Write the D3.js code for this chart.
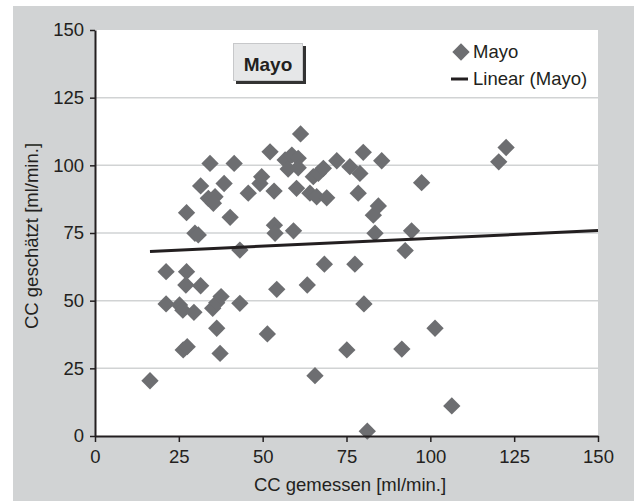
<!DOCTYPE html>
<html>
<head>
<meta charset="utf-8">
<script src="https://cdn.jsdelivr.net/npm/d3@7"></script>
<style>
  body { margin: 0; background: #fff; }
  svg text { font-family: "Liberation Sans", Arial, sans-serif; fill: #231f20; }
</style>
</head>
<body>
<div id="chart"></div>
<script>
// measured (x) vs estimated (y) clearance, ml/min
var measured = [16.4, 21.2, 21.2, 25.2, 26.2, 26.3, 27.5, 27.3, 27.3, 27.1,
  29.5, 29.8, 30.8, 31.5, 31.5, 33.8, 34.3, 35.8, 35.3, 35.1,
  36.3, 37.6, 36.3, 37.3, 38.5, 40.3, 41.5, 43.2, 43.2, 45.7,
  49.2, 49.7, 51.4, 52.2, 53.4, 53.5, 53.7, 54.2, 56.7, 57.6,
  58.7, 60.6, 60.6, 60.1, 59.2, 61.3, 63.3, 64.1, 65.1, 66.1,
  66.6, 65.6, 68.1, 69.1, 68.4, 72.1, 75.1, 76.0, 77.5, 78.5,
  79.0, 80.0, 80.2, 81.2, 83.0, 83.5, 84.5, 85.5, 91.5, 92.5,
  94.4, 97.4, 101.4, 106.4, 120.4, 122.6];
var estimated = [20.4, 60.7, 48.8, 48.4, 46.5, 31.8, 33.0, 82.5, 60.7, 55.8,
  45.7, 74.9, 74.3, 55.5, 92.4, 87.8, 100.7, 88.4, 86.0, 47.2,
  49.2, 51.5, 39.8, 30.5, 93.3, 80.8, 100.7, 68.7, 49.0, 89.7,
  93.3, 95.8, 37.7, 105.0, 90.5, 77.9, 74.9, 54.2, 102.0, 98.6,
  103.8, 102.6, 99.1, 91.5, 75.8, 111.6, 55.8, 89.7, 95.8, 88.4,
  97.0, 22.3, 98.9, 88.0, 63.5, 101.7, 31.8, 99.5, 63.5, 89.7,
  97.0, 104.8, 48.8, 1.8, 81.6, 74.9, 85.0, 101.7, 32.1, 68.5,
  75.8, 93.6, 39.8, 11.1, 101.3, 106.6];

// linear trend (Mayo), end points
var trendX = [16.4, 150];
var trendY = [68.2, 75.9];

var ticks = [0, 25, 50, 75, 100, 125, 150];

var data = measured.map(function(m, i) { return {x: m, y: estimated[i]}; });

var svgWidth = 634, svgHeight = 501;
var margin = {top: 30, right: 36, bottom: 65, left: 95};
var width = svgWidth - margin.left - margin.right;   // 503
var height = svgHeight - margin.top - margin.bottom; // 406

var svg = d3.select("#chart").append("svg")
  .attr("width", svgWidth)
  .attr("height", svgHeight);

// grey panel
svg.append("rect")
  .attr("x", 13).attr("y", 6)
  .attr("width", svgWidth - 13).attr("height", svgHeight - 6)
  .attr("fill", "#d1d3d4");

var chartGroup = svg.append("g")
  .attr("transform", `translate(${margin.left}, ${margin.top})`);

chartGroup.append("rect")
  .attr("width", width).attr("height", height)
  .attr("fill", "#fff");

var xScale = d3.scaleLinear().domain([0, 150]).range([0, width]);
var yScale = d3.scaleLinear().domain([0, 150]).range([height, 0]);

// gridlines
chartGroup.selectAll(".grid")
  .data(ticks.filter(t => t > 0 && t < 150))
  .enter().append("line")
  .attr("x1", 0).attr("x2", width)
  .attr("y1", d => yScale(d)).attr("y2", d => yScale(d))
  .attr("stroke", "#d1d3d4")
  .attr("stroke-width", 1.5);

// points
var diamond = d3.symbol().type(d3.symbolSquare).size(150);
chartGroup.selectAll(".pt")
  .data(data)
  .enter().append("path")
  .attr("d", diamond)
  .attr("transform", d => `translate(${xScale(d.x)}, ${yScale(d.y)}) rotate(45)`)
  .attr("fill", "#6d6e71");

// trend line
chartGroup.append("line")
  .attr("x1", xScale(trendX[0])).attr("y1", yScale(trendY[0]))
  .attr("x2", xScale(trendX[1])).attr("y2", yScale(trendY[1]))
  .attr("stroke", "#231f20")
  .attr("stroke-width", 3);

// axes
var xAxis = d3.axisBottom(xScale).tickValues(ticks).tickSize(6).tickSizeOuter(0).tickPadding(8);
var yAxis = d3.axisLeft(yScale).tickValues(ticks).tickSize(5).tickSizeOuter(0).tickPadding(6);

var gx = chartGroup.append("g")
  .attr("transform", `translate(0, ${height})`)
  .call(xAxis);
var gy = chartGroup.append("g").call(yAxis);

[gx, gy].forEach(function(g) {
  g.select(".domain").attr("stroke", "#231f20").attr("stroke-width", 2);
  g.selectAll(".tick line").attr("stroke", "#231f20").attr("stroke-width", 1.5);
  g.selectAll(".tick text")
    .attr("fill", "#231f20")
    .style("font-size", "18.5px")
    .style("font-family", "'Liberation Sans', Arial, sans-serif");
});

// axis titles
svg.append("text")
  .attr("x", 350).attr("y", 491)
  .attr("text-anchor", "middle")
  .style("font-size", "18.5px")
  .text("CC gemessen [ml/min.]");

svg.append("text")
  .attr("transform", "translate(38, 236) rotate(-90)")
  .attr("text-anchor", "middle")
  .style("font-size", "18.5px")
  .text("CC geschätzt [ml/min.]");

// title box
svg.append("rect")
  .attr("x", 236).attr("y", 46).attr("width", 70).attr("height", 38)
  .attr("fill", "#333");
svg.append("rect")
  .attr("x", 233.5).attr("y", 43.5).attr("width", 69).attr("height", 37)
  .attr("fill", "#e6e7e8")
  .attr("stroke", "#c7c8ca").attr("stroke-width", 1);
svg.append("text")
  .attr("x", 268).attr("y", 71)
  .attr("text-anchor", "middle")
  .style("font-size", "19px")
  .style("font-weight", "bold")
  .text("Mayo");

// legend
var legend = svg.append("g");
legend.append("path")
  .attr("d", diamond)
  .attr("transform", "translate(461, 52) rotate(45)")
  .attr("fill", "#6d6e71");
legend.append("text")
  .attr("x", 473).attr("y", 58)
  .style("font-size", "18.5px")
  .text("Mayo");
legend.append("line")
  .attr("x1", 451).attr("x2", 468)
  .attr("y1", 79).attr("y2", 79)
  .attr("stroke", "#231f20").attr("stroke-width", 3);
legend.append("text")
  .attr("x", 473).attr("y", 85)
  .style("font-size", "18.5px")
  .text("Linear (Mayo)");
</script>
</body>
</html>
